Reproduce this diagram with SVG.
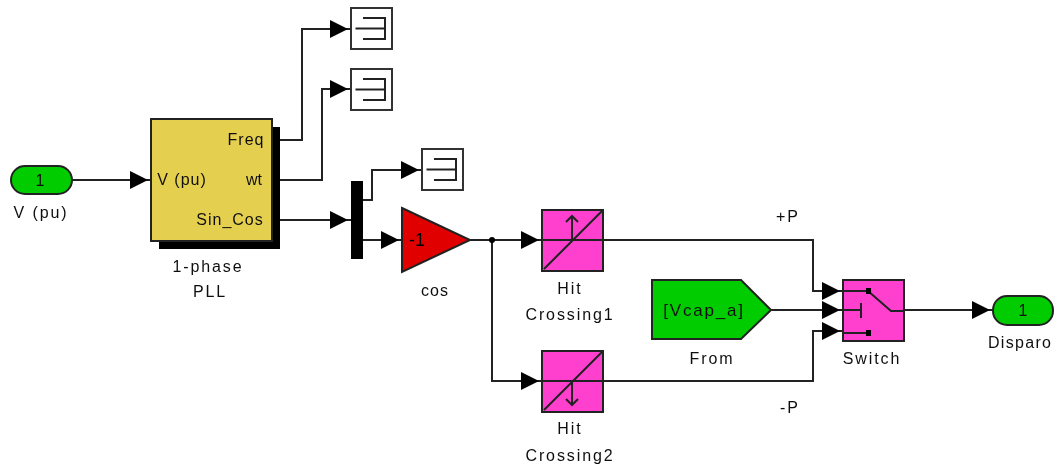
<svg xmlns="http://www.w3.org/2000/svg" width="1054" height="466" viewBox="0 0 1054 466">
<style>
text{font-family:"Liberation Sans",Arial,sans-serif;font-size:16px;fill:#111;text-anchor:middle}
.w{fill:none;stroke:#222;stroke-width:2}
.s{fill:#fff;stroke:#333;stroke-width:2}
.p{fill:#ff40cf;stroke:#222;stroke-width:2}
.g{fill:#0c0;stroke:#222;stroke-width:2}
.l{letter-spacing:1.900px}
.m{letter-spacing:1px}
</style>
<defs>
<filter id="soft" filterUnits="userSpaceOnUse" x="0" y="0" width="1054" height="466"><feGaussianBlur stdDeviation="0.45"/></filter>
<marker id="a" markerUnits="userSpaceOnUse" markerWidth="23" markerHeight="20" refX="21" refY="10" orient="auto"><path d="M0 1L18 10L0 19Z" fill="#000"/></marker>
<g id="sc"><rect class="s" x="0" y="0" width="41" height="41"/><path class="w" d="M4.500 20.500H34M12 10H34V31H12"/></g>
</defs>
<rect width="1054" height="466" fill="#fff"/>
<g filter="url(#soft)">
<g id="connectors">
<path class="w" marker-end="url(#a)" d="M72 180H151"/>
<path class="w" marker-end="url(#a)" d="M280 140H302V29H351"/>
<path class="w" marker-end="url(#a)" d="M280 180H322V89H351"/>
<path class="w" marker-end="url(#a)" d="M280 220H351"/>
<path class="w" marker-end="url(#a)" d="M362 200H372V170H422"/>
<path class="w" marker-end="url(#a)" d="M362 240H402"/>
<path class="w" marker-end="url(#a)" d="M470 240H542"/>
<path class="w" marker-end="url(#a)" d="M492 240V381H542"/>
<circle cx="492" cy="240" r="3" fill="#000"/>
<path class="w" marker-end="url(#a)" d="M603 240H813V291H843"/>
<path class="w" marker-end="url(#a)" d="M603 381H813V331H843"/>
<path class="w" marker-end="url(#a)" d="M771 310H843"/>
<path class="w" marker-end="url(#a)" d="M904 310H993"/>
</g>
<g id="inport"><rect class="g" x="11" y="166" width="61" height="28" rx="14"/><text x="40" y="186">1</text><text class="l" x="41" y="218">V (pu)</text></g>
<g id="pll"><rect x="159" y="127" width="121" height="122" fill="#000"/><rect x="151" y="119" width="121" height="122" fill="#e5cf50" stroke="#222" stroke-width="2"/>
<text class="m" x="246" y="145">Freq</text><text class="m" x="182" y="185">V (pu)</text><text x="254" y="185">wt</text><text class="m" x="230" y="225">Sin_Cos</text>
<text class="l" x="208" y="272">1-phase</text><text class="l" x="210" y="297">PLL</text></g>
<use id="scope1" href="#sc" x="351" y="8"/>
<use id="scope2" href="#sc" x="351" y="69"/>
<use id="scope3" href="#sc" x="422" y="149"/>
<rect id="mux" x="351" y="181" width="12" height="78" fill="#000"/>
<g id="gain"><path d="M402 208L470 240L402 272Z" fill="#e00000" stroke="#222" stroke-width="2"/><text x="417" y="246" style="font-size:18px;fill:#000">-1</text><text class="m" x="435" y="296">cos</text></g>
<g id="hit1"><rect class="p" x="542" y="210" width="61" height="61"/><path class="w" d="M542 240H603M544 269L602 211M572 239V217M566 222L572 216L578 222"/><text class="l" x="570" y="294">Hit</text><text class="l" x="570" y="320">Crossing1</text></g>
<g id="hit2"><rect class="p" x="542" y="351" width="61" height="61"/><path class="w" d="M542 381H603M544 410L602 352M572 381V405M566 399L572 405L578 399"/><text class="l" x="570" y="434">Hit</text><text class="l" x="570" y="461">Crossing2</text></g>
<g id="from"><path class="g" d="M652 280H741L771 310L741 339H652Z"/><text x="704" y="316" style="font-size:17px;letter-spacing:1.800px">[Vcap_a]</text><text class="l" x="712" y="364">From</text></g>
<g id="switch"><rect class="p" x="843" y="280" width="61" height="61"/><path class="w" d="M843 291H868L891 311H904M843 310H861M861 303V318M843 333H868"/><rect x="866" y="288" width="5" height="6" fill="#000"/><rect x="866" y="330" width="5" height="6" fill="#000"/><text class="l" x="872" y="364">Switch</text></g>
<g id="outport"><rect class="g" x="993" y="296" width="60" height="29" rx="14"/><text x="1023" y="316">1</text><text x="988" y="348" style="text-anchor:start;letter-spacing:1.300px">Disparo</text></g>
<text id="plus" class="l" x="788" y="222">+P</text>
<text id="minus" class="l" x="790" y="413">-P</text>
</g>
</svg>
